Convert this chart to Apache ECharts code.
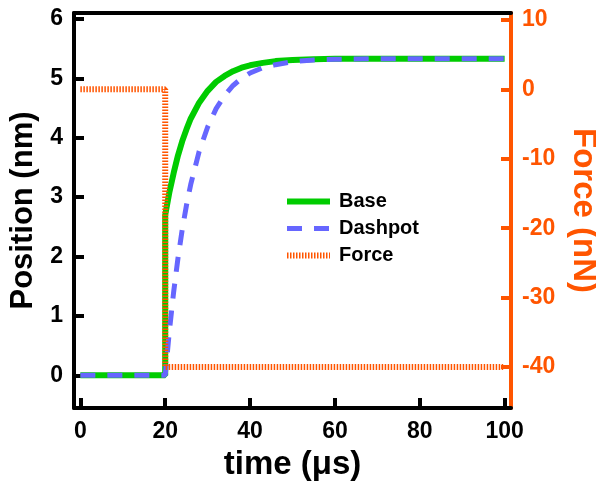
<!DOCTYPE html>
<html>
<head>
<meta charset="utf-8">
<script src="https://cdn.jsdelivr.net/npm/echarts@6/dist/echarts.min.js"></script>
<style>
  html, body { margin: 0; padding: 0; background: #fff; }
  #chart { width: 596px; height: 484px; }
</style>
</head>
<body>
<div id="chart"></div>
<script>
// values
const baseTime = [0, 20, 20, 21, 22, 23, 24, 25, 26, 28, 30, 32, 34, 36, 38, 40, 43, 46, 50, 55, 60, 70, 80, 100];
const baseValues = [0, 0, 2.7, 3.09, 3.41, 3.7, 3.94, 4.14, 4.32, 4.59, 4.79, 4.94, 5.04, 5.12, 5.18, 5.22, 5.26, 5.29, 5.31, 5.32, 5.33, 5.33, 5.33, 5.33];
const dashTime = [0, 20, 21, 22, 23, 24, 25, 26, 28, 30, 32, 34, 36, 38, 40, 43, 46, 50, 55, 60, 70, 80, 100];
const dashValues = [0, 0, 0.76, 1.41, 1.97, 2.45, 2.86, 3.21, 3.77, 4.18, 4.49, 4.71, 4.88, 5.0, 5.09, 5.18, 5.23, 5.28, 5.31, 5.32, 5.33, 5.33, 5.33];
const forceTime = [0, 20, 20, 100];
const forceValues = [0, 0, -40, -40];

const timeTicks = [0, 20, 40, 60, 80, 100];
const positionTicks = [0, 1, 2, 3, 4, 5, 6];
const forceTicks = [-40, -30, -20, -10, 0, 10];

const orange = "#FF5500";
const font = "Liberation Sans";

function pairs(xs, ys) {
  return xs.map((x, i) => [x, ys[i]]);
}

let mychart = echarts.init(document.getElementById("chart"));
let option = {
  animation: false,
  grid: { left: 74, right: 85, top: 13, bottom: 76, outerBoundsMode: "none", containLabel: false },
  legend: {
    orient: "vertical",
    left: 279,
    top: 186,
    itemWidth: 43,
    itemHeight: 14,
    itemGap: 6,
    itemStyle: { opacity: 0 },
    textStyle: { fontFamily: font, fontWeight: "bold", fontSize: 20, lineHeight: 21, color: "#000", padding: [0, 0, 0, 4] },
    data: [
      { name: "Base", lineStyle: { width: 6, color: "#00CC00" } },
      { name: "Dashpot", lineStyle: { width: 5, color: "#6666FF", type: [15, 12] } },
      { name: "Force", lineStyle: { width: 6, color: orange, type: [1.5, 1.5] } },
    ],
  },
  xAxis: [
    {
      type: "value",
      min: -1.5,
      max: 101.5,
      name: "time (μs)",
      nameLocation: "middle",
      nameGap: 40,
      nameTextStyle: { fontFamily: font, fontWeight: "bold", fontSize: 33, color: "#000" },
      axisLine: { onZero: false, lineStyle: { color: "#000", width: 4 } },
      axisTick: { inside: true, length: 10, lineStyle: { width: 4, color: "#000" }, customValues: timeTicks },
      axisLabel: { customValues: timeTicks, margin: 12, fontFamily: font, fontWeight: "bold", fontSize: 23, color: "#000" },
      splitLine: { show: false },
    },
    {
      type: "value",
      position: "top",
      min: -1.5,
      max: 101.5,
      axisLine: { onZero: false, lineStyle: { color: "#000", width: 4 } },
      axisTick: { show: false },
      axisLabel: { show: false },
      splitLine: { show: false },
    },
  ],
  yAxis: [
    {
      type: "value",
      min: -0.55,
      max: 6.1,
      name: "Position (nm)",
      nameLocation: "middle",
      nameGap: 35,
      nameTextStyle: { fontFamily: font, fontWeight: "bold", fontSize: 31, color: "#000" },
      axisLine: { show: true, onZero: false, lineStyle: { color: "#000", width: 4 } },
      axisTick: { show: true, inside: true, length: 10, lineStyle: { width: 4, color: "#000" }, customValues: positionTicks },
      axisLabel: { customValues: positionTicks, margin: 11, fontFamily: font, fontWeight: "bold", fontSize: 23, color: "#000" },
      splitLine: { show: false },
    },
    {
      type: "value",
      position: "right",
      min: -45.9,
      max: 11,
      name: "Force (nN)",
      nameLocation: "middle",
      nameGap: 46,
      nameRotate: -90,
      nameTextStyle: { fontFamily: font, fontWeight: "bold", fontSize: 33, color: orange },
      axisLine: { show: true, onZero: false, lineStyle: { color: orange, width: 4 } },
      axisTick: { show: true, inside: true, length: 10, lineStyle: { width: 4, color: orange }, customValues: forceTicks },
      axisLabel: { customValues: forceTicks, margin: 11, fontFamily: font, fontWeight: "bold", fontSize: 23, color: orange },
      splitLine: { show: false },
    },
  ],
  series: [
    {
      name: "Base",
      type: "line",
      symbol: "none",
      data: pairs(baseTime, baseValues),
      lineStyle: { color: "#00CC00", width: 6 },
      itemStyle: { color: "#00CC00" },
      z: 2,
    },
    {
      name: "Dashpot",
      type: "line",
      symbol: "none",
      data: pairs(dashTime, dashValues),
      lineStyle: { color: "#6666FF", width: 5, type: [15, 12] },
      itemStyle: { color: "#6666FF" },
      z: 3,
    },
    {
      name: "Force",
      type: "line",
      symbol: "none",
      yAxisIndex: 1,
      data: pairs(forceTime, forceValues),
      lineStyle: { color: orange, width: 6, type: [1.5, 1.5] },
      itemStyle: { color: orange },
      z: 4,
    },
  ],
};
mychart.setOption(option);
</script>
</body>
</html>
